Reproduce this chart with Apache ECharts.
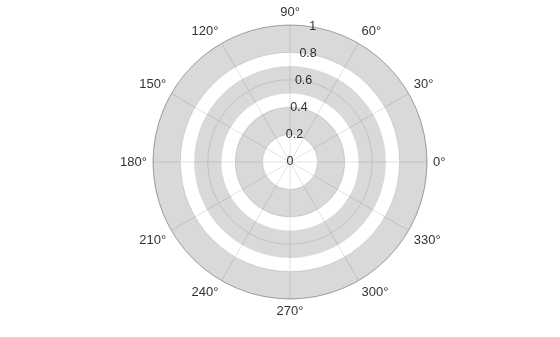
<!DOCTYPE html>
<html><head><meta charset="utf-8">
<script src="https://cdn.jsdelivr.net/npm/echarts@6/dist/echarts.min.js"></script>
<style>html,body{margin:0;padding:0;background:#fff}#c{width:560px;height:337px}</style>
</head><body><div id="c"></div>
<script>
var ringStart = [0.2, 0.5, 0.8];
var ringEnd = [0.4, 0.7, 1.0];
var angleTicks = [0, 30, 60, 90, 120, 150, 180, 210, 240, 270, 300, 330];
var radiusTicks = [0, 0.2, 0.4, 0.6, 0.8, 1];

var chart = echarts.init(document.getElementById('c'), null, {renderer: 'canvas'});
var font = 'Liberation Sans, Arial, sans-serif';
var ringData = ringStart.map(function (s, i) { return [s, ringEnd[i]]; });

chart.setOption({
  animation: false,
  polar: [
    {center: [290, 162], radius: 137},
    {center: [290, 162], radius: 137}
  ],
  angleAxis: [
    {
      polarIndex: 0, type: 'value', min: 0, max: 360, interval: 30,
      startAngle: 0, clockwise: false, z: 5,
      axisLine: {lineStyle: {color: '#b0b0b0', width: 1}},
      axisTick: {show: false},
      axisLabel: {formatter: '{value}°', color: '#333', fontSize: 13, fontFamily: font, margin: 6},
      splitLine: {lineStyle: {color: '#e2e2e2', width: 1}}
    },
    {
      polarIndex: 1, type: 'value', min: 0, max: 360, startAngle: 80.5, clockwise: false,
      axisLine: {show: false}, axisTick: {show: false}, axisLabel: {show: false}, splitLine: {show: false}
    }
  ],
  radiusAxis: [
    {
      polarIndex: 0, type: 'value', min: 0, max: 1, interval: 0.2, z: 5,
      axisLine: {show: false}, axisTick: {show: false}, axisLabel: {show: false},
      splitLine: {lineStyle: {color: '#e2e2e2', width: 1}}
    },
    {
      polarIndex: 1, type: 'value', min: 0, max: 1, interval: 0.2, z: 6,
      axisLine: {show: false}, axisTick: {show: false}, splitLine: {show: false},
      axisLabel: {
        color: '#333', fontSize: 12.5, fontFamily: font, margin: 0,
        align: 'center', verticalAlign: 'middle',
        formatter: function (v) { return String(Math.round(v * 10) / 10); }
      }
    }
  ],
  series: [{
    type: 'custom', coordinateSystem: 'polar', polarIndex: 0, z: 10, silent: true,
    data: ringData,
    renderItem: function (params, api) {
      var cs = params.coordSys;
      var p0 = api.coord([api.value(0), 0]);
      var p1 = api.coord([api.value(1), 0]);
      var r0 = Math.sqrt(Math.pow(p0[0] - cs.cx, 2) + Math.pow(p0[1] - cs.cy, 2));
      var r1 = Math.sqrt(Math.pow(p1[0] - cs.cx, 2) + Math.pow(p1[1] - cs.cy, 2));
      return {
        type: 'sector',
        shape: {cx: cs.cx, cy: cs.cy, r0: r0, r: r1, startAngle: 0, endAngle: Math.PI * 2},
        style: {fill: 'rgba(0,0,0,0.15)'}
      };
    }
  }]
});
</script></body></html>
